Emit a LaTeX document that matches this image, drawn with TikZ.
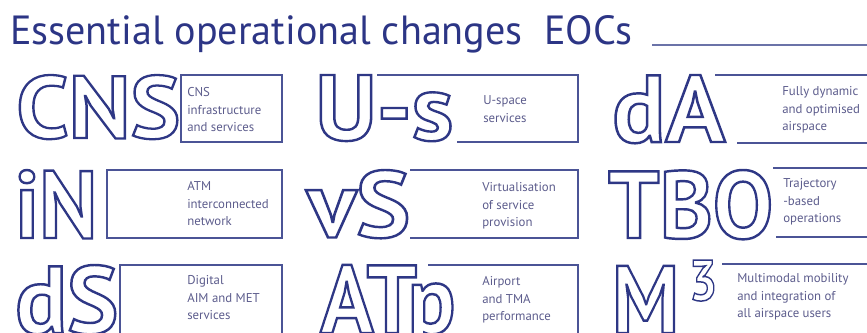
\documentclass[tikz,border=0pt]{standalone}
\usepackage{fontspec}
\usepackage{graphicx}
\setmainfont{PT Sans}

\definecolor{eocNavy}{RGB}{44,53,133}
\definecolor{eocOutline}{RGB}{46,55,133}
\definecolor{eocLine}{RGB}{75,84,150}
\definecolor{eocRule}{RGB}{107,115,168}
\definecolor{eocText}{RGB}{92,92,140}

\newlength\pxu
\setlength\pxu{0.75pt}
% hollow big letters, fitted to width x height (in px)
\newcommand\eocword[3]{\resizebox{#1\pxu}{#2\pxu}{\color{eocOutline}\special{pdf:literal direct 1 Tr 1.8 w 0.180 0.216 0.522 RG}\bfseries\fontsize{70}{70}\selectfont #3\special{pdf:literal direct 0 Tr}}}

\begin{document}
\begin{tikzpicture}[x=0.75pt,y=0.75pt,yscale=-1,xscale=1,
    boxline/.style={draw=eocLine,line width=1.5pt},
    bigword/.style={anchor=base west,inner sep=0pt},
    eoclabel/.style={anchor=north west,inner sep=0pt,align=left,text=eocText,font=\fontsize{9.6}{13.1}\selectfont}]
\useasboundingbox (0,0) rectangle (867,332);
\clip (0,0) rectangle (867,332);

% Text Node
\node[anchor=base west,inner sep=0pt,text=eocNavy] (title) at (10,45) {\resizebox{622\pxu}{29\pxu}{Essential operational changes\ \ EOCs}};
%Straight Lines
\coordinate (ruleStart) at (652,44.5);
\coordinate (ruleEnd) at (867,44.5);
\draw [eocRule,line width=1.5pt] (ruleStart) -- (ruleEnd);

%Shape: first row
\draw [boxline] (181,75) -- (282,75) -- (282,142) -- (181,142) -- cycle;
\draw [boxline] (377,75) -- (578,75) -- (578,142) -- (457,142);
\draw [boxline] (715,75) -- (870,75) (737,143) -- (870,143);
%Shape: second row
\draw [boxline] (107,170) -- (282,170) -- (282,238) -- (107,238) -- cycle;
\draw [boxline] (410,170) -- (578,170) -- (578,238) -- (410,238);
\draw [boxline] (773,168) -- (870,168) (776,237) -- (870,237);
%Shape: third row
\draw [boxline] (120,340) -- (120,265) -- (282,265) -- (282,340);
\draw [boxline] (428,265) -- (578,265) -- (578,340);
\draw [boxline] (722,264) -- (870,264);

% Big letters
\node[bigword] (wCNS) at (16,138) {\eocword{164}{63}{CNS}};
\node[bigword] (wUs) at (315,140) {\eocword{138}{65}{U-s}};
\node[bigword] (wdA) at (612,142) {\eocword{113}{67}{dA}};
\node[bigword] (wiN) at (15,238) {\eocword{82}{68}{iN}};
\node[bigword] (wvS) at (307,237) {\eocword{103}{67}{vS}};
\node[bigword] (wTBO) at (608,238) {\eocword{165}{68}{TBO}};
\node[bigword] (wdS) at (15,333) {\eocword{103}{68}{dS}};
\node[bigword] (wATp) at (320,333) {\eocword{135}{68}{ATp}};
\node[bigword] (wMthree) at (612,333) {\eocword{105}{73}{M\hspace{0.12em}\raisebox{0.34em}{\scalebox{0.6}{3}}}};

% Text Node
\node[eoclabel] (tCNS) at (187,87.5) {CNS\\infrastructure\\and services};
\node[eoclabel] (tUs) at (483,95.5) {U-space\\services};
\node[eoclabel] (tdA) at (782,86.5) {Fully dynamic\\and optimised\\airspace};
\node[eoclabel] (tiN) at (187,181.5) {ATM\\interconnected\\network};
\node[eoclabel] (tvS) at (482,182.5) {Virtualisation\\of service\\provision};
\node[eoclabel] (tTBO) at (783,178.5) {Trajectory\\-based\\operations};
\node[eoclabel] (tdS) at (187,275.5) {Digital\\AIM and MET\\services};
\node[eoclabel] (tATp) at (482,276.5) {Airport\\and TMA\\performance};
\node[eoclabel] (tMthree) at (737,273.5) {Multimodal mobility\\and integration of\\all airspace users};
\end{tikzpicture}
\end{document}
